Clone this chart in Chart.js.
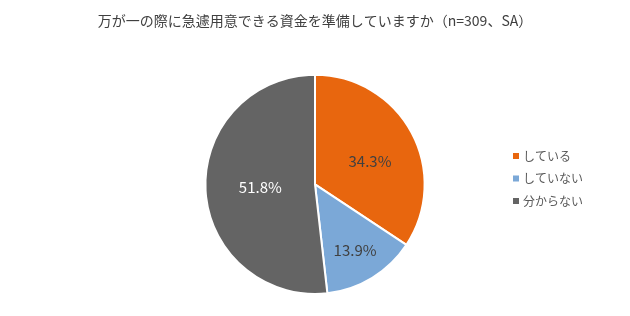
<!DOCTYPE html>
<html>
<head>
<meta charset="utf-8">
<script src="https://cdn.jsdelivr.net/npm/chart.js@4"></script>
<style>
  html, body { margin: 0; padding: 0; background: #fff; }
  #wrap { width: 630px; height: 316px; position: relative; }
</style>
</head>
<body>
<div id="wrap"><canvas id="Pie"></canvas></div>
<script>
const LABELS = ['している', 'していない', '分からない'];
const VALUES = [34.3, 13.9, 51.8];
const COLORS = ['#E8660E', '#7BA8D7', '#646464'];
const LABEL_COLORS = ['#404040', '#404040', '#ffffff'];
const TITLE = '万が一の際に急遽用意できる資金を準備していますか（n=309、SA）';

const FONT = "'Noto Sans CJK JP', 'Noto Sans', sans-serif";

// percentage text inside each slice
const sliceLabels = {
    id: 'sliceLabels',
    afterDatasetsDraw(chart, args, opts) {
        const ctx = chart.ctx;
        const meta = chart.getDatasetMeta(0);
        ctx.save();
        ctx.font = '15px ' + FONT;
        ctx.textAlign = 'center';
        ctx.textBaseline = 'middle';
        meta.data.forEach((arc, i) => {
            const mid = (arc.startAngle + arc.endAngle) / 2;
            const r = arc.outerRadius * opts.radius[i];
            ctx.fillStyle = LABEL_COLORS[i];
            ctx.fillText(VALUES[i].toFixed(1) + '%', arc.x + Math.cos(mid) * r, arc.y + Math.sin(mid) * r + opts.dy[i]);
        });
        ctx.restore();
    }
};

// legend on the right, Excel style
const sideLegend = {
    id: 'sideLegend',
    afterDraw(chart, args, opts) {
        const ctx = chart.ctx;
        ctx.save();
        ctx.font = '12px ' + FONT;
        ctx.textBaseline = 'middle';
        LABELS.forEach((lab, i) => {
            const y = opts.y + i * opts.gap;
            ctx.fillStyle = COLORS[i];
            ctx.fillRect(opts.x, y - 3, 6, 6);
            ctx.fillStyle = '#595959';
            ctx.fillText(lab, opts.x + 10, y);
        });
        ctx.restore();
    }
};

new Chart(document.getElementById('Pie'), {
    type: 'pie',
    data: {
        labels: LABELS,
        datasets: [{
            data: VALUES,
            backgroundColor: COLORS,
            borderColor: '#ffffff',
            borderWidth: 2,
            hoverOffset: 0
        }]
    },
    options: {
        responsive: true,
        maintainAspectRatio: false,
        animation: false,
        layout: { padding: { left: 0, right: 0, top: 0, bottom: 21 } },
        plugins: {
            legend: { display: false },
            tooltip: { enabled: false },
            title: {
                display: true,
                text: TITLE,
                color: '#404040',
                font: { family: FONT, size: 14, weight: 'normal' },
                padding: { top: 12, bottom: 45 }
            },
            sliceLabels: { radius: [0.57, 0.7, 0.5], dy: [6, 0, 0] },
            sideLegend: { x: 513, y: 156, gap: 22.5 }
        }
    },
    plugins: [sliceLabels, sideLegend]
});
</script>
</body>
</html>
